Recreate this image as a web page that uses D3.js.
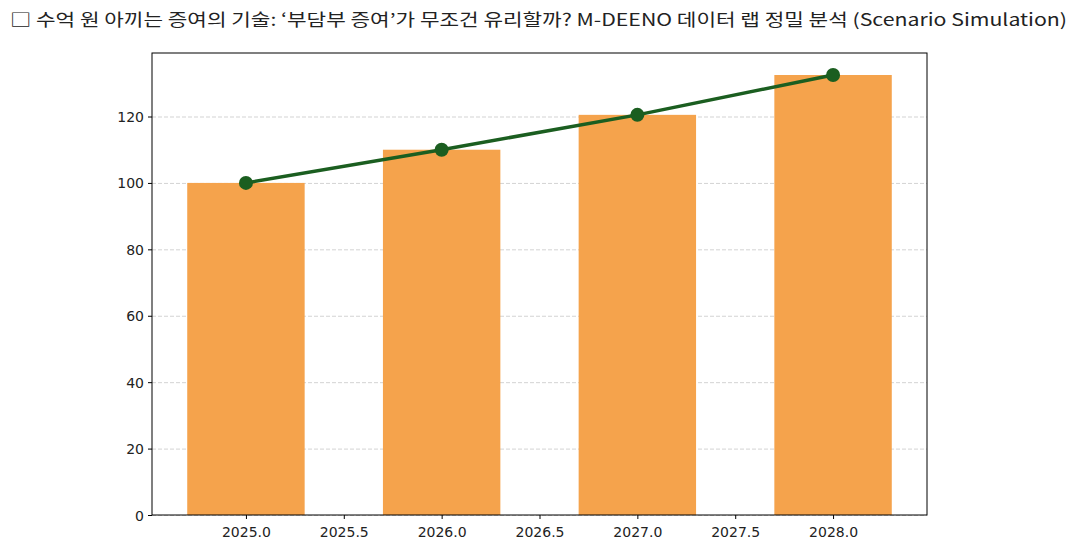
<!DOCTYPE html>
<html>
<head>
<meta charset="utf-8">
<script src="https://cdn.jsdelivr.net/npm/d3@7"></script>
<style>
  body { margin: 0; background: #fff; }
</style>
</head>
<body>
<svg id="chart" width="1079" height="549"></svg>
<script>
const titleText = '□ 수억 원 아끼는 증여의 기술: ‘부담부 증여’가 무조건 유리할까? M-DEENO 데이터 랩 정밀 분석 (Scenario Simulation)';
const years = [2025, 2026, 2027, 2028];
const barValues = [100, 110, 120.5, 132.5];
const lineValues = [100, 110, 120.5, 132.5];
const xTicks = [2025.0, 2025.5, 2026.0, 2026.5, 2027.0, 2027.5, 2028.0];
const yTicks = [0, 20, 40, 60, 80, 100, 120];

const margin = { top: 53, left: 152 };
const innerWidth = 927 - margin.left;
const innerHeight = 515 - margin.top;
const barWidth = 0.6;
const tickFont = '"DejaVu Sans", sans-serif';

const svg = d3.select('#chart');

svg.append('text')
  .attr('x', 10)
  .attr('y', 26)
  .attr('textLength', 1057)
  .attr('lengthAdjust', 'spacingAndGlyphs')
  .style('font-family', '"Noto Sans CJK KR", sans-serif')
  .style('font-size', '17px')
  .style('fill', '#222')
  .text(titleText);

const xMin = d3.min(years) - barWidth / 2;
const xMax = d3.max(years) + barWidth / 2;
const xPad = (xMax - xMin) * 0.05;
const x = d3.scaleLinear().domain([xMin - xPad, xMax + xPad]).range([0, innerWidth]);
const y = d3.scaleLinear().domain([0, d3.max(barValues) * 1.05]).range([innerHeight, 0]);

const chart = svg.append('g').attr('transform', `translate(${margin.left}, ${margin.top})`);

// grid first so the bars sit on top of it
chart.append('g')
  .selectAll('line')
  .data(yTicks)
  .join('line')
  .attr('x1', 0)
  .attr('x2', innerWidth)
  .attr('y1', (d) => y(d) + 0.5)
  .attr('y2', (d) => y(d) + 0.5)
  .attr('stroke', '#d3d3d3')
  .attr('stroke-width', 1)
  .attr('stroke-dasharray', '4,2');

chart.append('g')
  .selectAll('rect')
  .data(years)
  .join('rect')
  .attr('x', (d) => x(d - barWidth / 2))
  .attr('y', (d, i) => y(barValues[i]))
  .attr('width', (d) => x(d + barWidth / 2) - x(d - barWidth / 2))
  .attr('height', (d, i) => y(0) - y(barValues[i]))
  .attr('fill', '#f5a34c');

const line = d3.line()
  .x((d, i) => x(years[i]))
  .y((d) => y(d));

chart.append('path')
  .datum(lineValues)
  .attr('d', line)
  .attr('fill', 'none')
  .attr('stroke', '#1b5e20')
  .attr('stroke-width', 3.5);

chart.append('g')
  .selectAll('circle')
  .data(lineValues)
  .join('circle')
  .attr('cx', (d, i) => x(years[i]))
  .attr('cy', (d) => y(d))
  .attr('r', 7)
  .attr('fill', '#1b5e20');

const xAxis = chart.append('g')
  .attr('transform', `translate(0, ${innerHeight})`)
  .call(d3.axisBottom(x).tickValues(xTicks).tickFormat(d3.format('.1f')).tickSizeOuter(0).tickSize(4));

const yAxis = chart.append('g')
  .call(d3.axisLeft(y).tickValues(yTicks).tickFormat(d3.format('d')).tickSizeOuter(0).tickSize(4));

[xAxis, yAxis].forEach((axis) => {
  axis.select('.domain').remove();
  axis.selectAll('line').attr('stroke', '#000');
  axis.selectAll('text')
    .style('fill', '#222')
    .style('font-size', '14px')
    .style('font-family', tickFont);
});
xAxis.selectAll('text').attr('y', 22).attr('dy', null);
yAxis.selectAll('text').attr('x', -8).attr('dy', '0.36em');

// frame around the plot
chart.append('rect')
  .attr('x', 0)
  .attr('y', 0)
  .attr('width', innerWidth)
  .attr('height', innerHeight)
  .attr('fill', 'none')
  .attr('stroke', '#000')
  .attr('stroke-width', 1);
</script>
</body>
</html>
